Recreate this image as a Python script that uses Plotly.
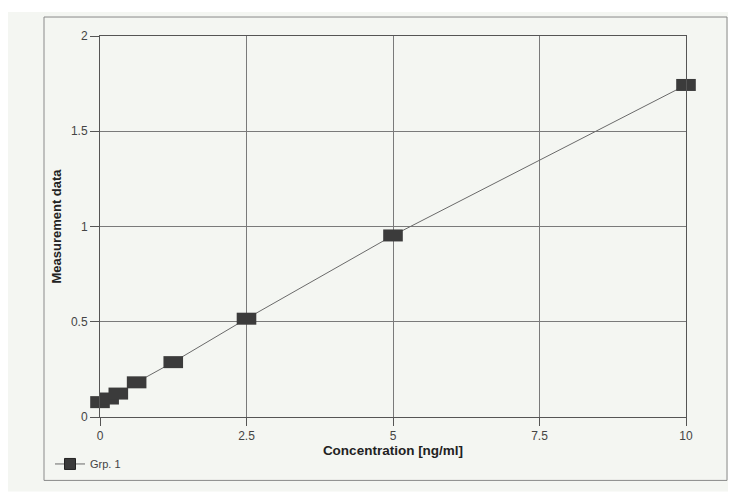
import plotly.graph_objects as go

concentration = [0, 0.156, 0.3125, 0.625, 1.25, 2.5, 5, 10]
measurement = [0.078, 0.097, 0.123, 0.182, 0.288, 0.516, 0.953, 1.743]
series_name = "Grp. 1"
x_ticks = [0, 2.5, 5, 7.5, 10]
x_tick_labels = ["0", "2.5", "5", "7.5", "10"]
y_ticks = [0, 0.5, 1, 1.5, 2]
y_tick_labels = ["0", "0.5", "1", "1.5", "2"]

FONT = "Liberation Sans, Arial, sans-serif"
MARK = "#3b3b3b"
GRID = "#7a7a7a"

# page body has an 8px margin, so the figure is 728x488 and page px = fig px + 8
OFF = 8
W, H = 728, 488
L, R, T, B = 92, 50, 28, 78.5
pw, ph = W - L - R, H - T - B


def px_to_paper(px, py):
    """page pixel -> paper coordinates"""
    fx, fy = px - OFF, py - OFF
    return (fx - L) / pw, (H - B - fy) / ph


fig = go.Figure()
fig.add_trace(go.Scatter(
    x=concentration, y=measurement, mode="lines+markers",
    line=dict(color="#6a6a6a", width=1),
    marker=dict(symbol="line-ew", size=14, color=MARK,
                line=dict(color=MARK, width=12)),
    showlegend=False, name=series_name, cliponaxis=False,
))
fig.add_trace(go.Scatter(
    x=[None], y=[None], mode="lines+markers", name=series_name,
    line=dict(color="#6a6a6a", width=1),
    marker=dict(symbol="square", size=11, color=MARK,
                line=dict(color="#222", width=1)),
))

x0, y1 = px_to_paper(7, 12)
x1, y0 = px_to_paper(740, 492)
fx0, fy1 = px_to_paper(44, 17)
fx1, fy0 = px_to_paper(727, 481)
fig.update_layout(
    width=W, height=H,
    margin=dict(l=L, r=R, t=T, b=B, autoexpand=False),
    paper_bgcolor="white",
    plot_bgcolor="rgba(0,0,0,0)",
    font=dict(family=FONT, color="#333", size=11),
    shapes=[
        dict(type="rect", xref="paper", yref="paper", x0=x0, x1=x1, y0=y0, y1=y1,
             fillcolor="#f4f6f2", line=dict(width=0), layer="below"),
        dict(type="rect", xref="paper", yref="paper", x0=fx0, x1=fx1, y0=fy0, y1=fy1,
             fillcolor="rgba(0,0,0,0)", line=dict(color="#8a8a8a", width=1), layer="below"),
    ],
    xaxis=dict(
        range=[0, 10], tickvals=x_ticks, ticktext=x_tick_labels, automargin=False,
        showgrid=True, gridcolor=GRID, gridwidth=1, zeroline=False,
        showline=True, linecolor="#555", linewidth=1, mirror=True,
        ticks="outside", ticklen=8, tickcolor="#555",
        tickfont=dict(size=12, color="#444"),
        title=dict(text="<b>Concentration [ng/ml]</b>", font=dict(size=13.5, color="#222"), standoff=3),
    ),
    yaxis=dict(
        range=[0, 2], tickvals=y_ticks, ticktext=y_tick_labels, automargin=False,
        showgrid=True, gridcolor=GRID, gridwidth=1, zeroline=False,
        showline=True, linecolor="#555", linewidth=1, mirror=True,
        ticks="outside", ticklen=9, tickcolor="#555",
        tickfont=dict(size=12, color="#444"),
        title=dict(text="<b>Measurement data</b>", font=dict(size=13, color="#222"), standoff=6),
    ),
    legend=dict(x=px_to_paper(50, 0)[0], y=px_to_paper(0, 450)[1], xanchor="left", yanchor="top",
                bgcolor="rgba(0,0,0,0)", font=dict(size=11, color="#444"),
                itemwidth=30),
)

fig.write_html("out.html")
